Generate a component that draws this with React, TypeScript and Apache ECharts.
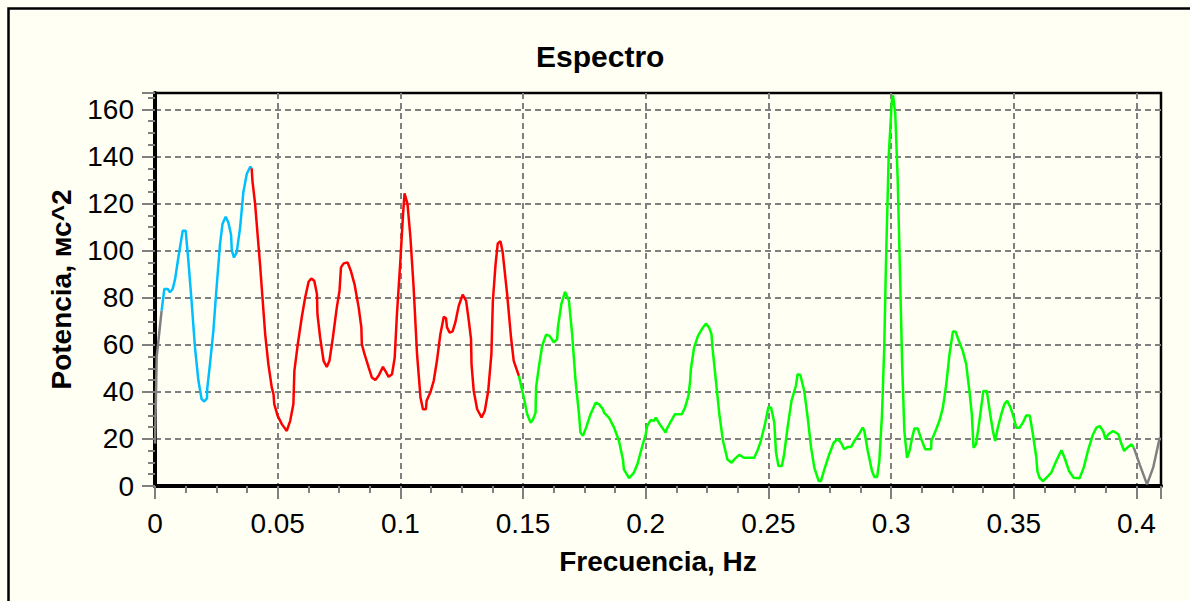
import React, { useEffect, useRef } from "react";
import * as echarts from "echarts";

// Spectrum: [frequency Hz, power ms^2]
const lowEdge: [number, number][] = [
  [0, 18], [0.0007, 55], [0.0027, 74.5],
];

const vlfBand: [number, number][] = [
  [0.0027, 74.5], [0.0038, 83.7], [0.0052, 83.7], [0.0061, 82.3], [0.0072, 83.7],
  [0.0082, 88], [0.0095, 97], [0.0113, 108.5], [0.0125, 108.5], [0.0136, 95.7],
  [0.0149, 78.7], [0.0163, 58.8], [0.0177, 44.7], [0.019, 36.9], [0.0201, 35.9],
  [0.0212, 37.3], [0.0213, 41.5], [0.0224, 51.8], [0.0238, 66], [0.0249, 81.7],
  [0.0265, 102.8], [0.0275, 111.3], [0.0288, 114.4], [0.0299, 112], [0.031, 106.8],
  [0.0313, 100], [0.0322, 97.1], [0.0333, 99.3], [0.0347, 109.9], [0.036, 124.8],
  [0.0374, 132.6], [0.0388, 135.7], [0.0394, 135],
];

const lfBand: [number, number][] = [
  [0.0394, 135], [0.0397, 129.8], [0.0408, 119.9], [0.0419, 105.7], [0.0429, 92.9],
  [0.0438, 80.1], [0.0449, 64.5], [0.0462, 51.8], [0.0476, 41.8], [0.0483, 39],
  [0.0486, 34.8], [0.05, 29.8], [0.0517, 26.3], [0.0537, 23.4], [0.0551, 27.7],
  [0.0564, 34.8], [0.0568, 48.9], [0.0582, 60.3], [0.0598, 71.6], [0.0612, 80.1],
  [0.0626, 86.8], [0.0637, 88.2], [0.0649, 87.2], [0.066, 81.6], [0.0662, 73],
  [0.0673, 63.1], [0.0687, 53.2], [0.07, 50.6], [0.0711, 53.2], [0.0725, 63.1],
  [0.0741, 75.9], [0.0752, 83], [0.0758, 92.9], [0.0769, 94.6], [0.0785, 95],
  [0.0798, 91.5], [0.0813, 85.8], [0.083, 75.9], [0.0841, 67.4], [0.0843, 60.3],
  [0.0854, 56], [0.0871, 50.3], [0.0884, 46.1], [0.0898, 45], [0.0911, 46.8],
  [0.0929, 50.6], [0.0941, 48.5], [0.0952, 46.4], [0.0966, 47.5], [0.0977, 54.6],
  [0.0986, 73], [0.1, 95.7], [0.1011, 115.6], [0.1017, 124.4], [0.1029, 119.9],
  [0.1041, 105.7], [0.1054, 84.4], [0.1068, 56], [0.1082, 37.6], [0.1092, 32.6],
  [0.1104, 32.6], [0.1107, 36.2], [0.1122, 39.7], [0.1136, 44.7], [0.1149, 53.2],
  [0.1163, 64.5], [0.1177, 71.9], [0.1186, 71.3], [0.119, 67.4], [0.1201, 65.2],
  [0.1213, 65.7], [0.1224, 69.5], [0.1238, 76.6], [0.1254, 81.3], [0.1268, 78.7],
  [0.1279, 70.2], [0.1288, 62.4], [0.129, 51.8], [0.1299, 40.4], [0.1313, 32.6],
  [0.1331, 29.1], [0.1344, 31.9], [0.1358, 40.4], [0.1371, 56], [0.1377, 78.7],
  [0.1388, 94.3], [0.1397, 103.1], [0.1408, 104], [0.1417, 99.3], [0.1435, 81.6],
  [0.1451, 63.1], [0.1462, 53.2], [0.1483, 46.8],
];

const hfBand: [number, number][] = [
  [0.1483, 46.8], [0.1503, 37.6], [0.1517, 30.5], [0.1531, 26.9], [0.1541, 28.4],
  [0.1551, 31.2], [0.1553, 41.8], [0.1564, 50.3], [0.1578, 59.6], [0.1594, 64.3],
  [0.1608, 63.8], [0.1626, 61], [0.1639, 62.4], [0.1642, 67.4], [0.1656, 77.3],
  [0.1671, 82.5], [0.1687, 78.7], [0.17, 64.5], [0.1714, 44.7], [0.1728, 30.5],
  [0.1734, 22.7], [0.1744, 21.3], [0.1757, 24.8], [0.1775, 30.5], [0.1796, 35.4],
  [0.1809, 34.8], [0.1826, 32.6], [0.183, 31.2], [0.185, 29.1], [0.1871, 24.8],
  [0.1891, 19.1], [0.1907, 11.3], [0.1911, 7.1], [0.1932, 3.3], [0.1952, 5.7],
  [0.1966, 9.2], [0.1986, 17], [0.2, 22], [0.2006, 25.5], [0.202, 28],
  [0.2034, 27.7], [0.2041, 29.1], [0.2057, 26.3], [0.2081, 22.7], [0.2085, 24.1],
  [0.2102, 27.4], [0.2119, 30.5], [0.2147, 30.5], [0.216, 33.3], [0.2174, 38.3],
  [0.2181, 44.7], [0.2184, 49.6], [0.2197, 58.8], [0.2213, 63.8], [0.2229, 66.7],
  [0.2245, 69], [0.2258, 67.4], [0.2268, 64.5], [0.2272, 58.8], [0.2286, 44.7],
  [0.23, 30.5], [0.2315, 19.1], [0.2333, 11.3], [0.235, 9.9], [0.2361, 11.3],
  [0.2381, 13.2], [0.2401, 12], [0.2442, 12], [0.2456, 15.2], [0.2469, 19.1],
  [0.2486, 26.3], [0.25, 33.6], [0.2511, 33.3], [0.2524, 26.9], [0.2531, 14.2],
  [0.2541, 8.5], [0.2555, 8.5], [0.2564, 13.5], [0.2578, 24.8], [0.2594, 36.2],
  [0.2612, 42.6], [0.2619, 47.5], [0.263, 47.2], [0.2646, 40.4], [0.266, 29.1],
  [0.2674, 16.3], [0.2687, 7.8], [0.2705, 2.1], [0.2714, 2.1], [0.2728, 7.1],
  [0.2748, 13.5], [0.2766, 18.4], [0.2782, 19.9], [0.2796, 18.4], [0.2809, 15.6],
  [0.2823, 16.6], [0.2837, 16.6], [0.285, 19.1], [0.2871, 22.3], [0.2884, 24.8],
  [0.2891, 23.4], [0.2905, 14.9], [0.2922, 6.4], [0.2932, 3.8], [0.2943, 3.8],
  [0.2952, 10.6], [0.2963, 30.5], [0.2972, 58.8], [0.2979, 94.3], [0.299, 139.7],
  [0.3003, 163.8], [0.3008, 166], [0.3017, 158.2], [0.3027, 129.8], [0.3037, 87.2],
  [0.3045, 51.8], [0.3054, 23.4], [0.3065, 12], [0.3075, 14.9], [0.3086, 20.6],
  [0.3095, 24.4], [0.3109, 24.4], [0.3123, 19.9], [0.3139, 15.6], [0.3163, 15.6],
  [0.3164, 19.1], [0.3181, 23.4], [0.3197, 27.7], [0.3211, 33.3], [0.3225, 43.3],
  [0.3238, 56], [0.3252, 65.7], [0.3262, 65.7], [0.3276, 61.7], [0.3292, 57.4],
  [0.3306, 51.8], [0.3319, 40.4], [0.3329, 30.5], [0.3336, 16.3], [0.3346, 17.7],
  [0.336, 27.7], [0.3376, 40.4], [0.339, 40.4], [0.3404, 30.5], [0.3415, 23.4],
  [0.3424, 19.1], [0.3435, 24.8], [0.3449, 30.5], [0.3462, 34.8], [0.3473, 36.2],
  [0.3487, 33.3], [0.35, 29.1], [0.351, 24.8], [0.3524, 24.8], [0.3537, 26.9],
  [0.3551, 30], [0.3565, 30], [0.3578, 22], [0.3592, 12], [0.3596, 6.4],
  [0.3605, 3.5], [0.3619, 2.1], [0.3633, 3.5], [0.3653, 5.7], [0.3673, 10.6],
  [0.3694, 15.2], [0.3707, 12], [0.3725, 6.4], [0.3744, 3.5], [0.3768, 3.3],
  [0.3785, 7.8], [0.3802, 14.9], [0.3823, 22], [0.3837, 24.8], [0.385, 25.5],
  [0.3864, 23.4], [0.3874, 19.9], [0.3885, 22], [0.3905, 23.4], [0.3926, 22],
  [0.3937, 18.4], [0.395, 14.9], [0.3966, 16.6], [0.398, 17.7], [0.3989, 16.3],
];

const highEdge: [number, number][] = [
  [0.3989, 16.3], [0.4013, 9.2], [0.4043, 0.7], [0.4068, 7.8], [0.4095, 20.6],
];

const titleText = "Espectro";
const xName = "Frecuencia, Hz";
const yName = "Potencia, мс^2";

const FONT = "'Liberation Sans', Arial, sans-serif";

function lineSeries(name: string, data: [number, number][], color: string) {
  return {
    name,
    type: "line",
    data,
    showSymbol: false,
    symbol: "none",
    smooth: false,
    clip: true,
    lineStyle: { color, width: 2.5 },
    itemStyle: { color },
  };
}

export default function App() {
  const ref = useRef<HTMLDivElement>(null);

  useEffect(() => {
    if (!ref.current) return;
    const chart = echarts.init(ref.current, undefined, { renderer: "svg" });
    const gray = "#808080";
    chart.setOption({
      animation: false,
      backgroundColor: "#FFFFF4",
      title: {
        text: titleText,
        left: 536,
        top: 41,
        padding: 0,
        textStyle: { fontFamily: FONT, fontSize: 30, fontWeight: "bold", color: "#000" },
      },
      graphic: [
        {
          type: "rect",
          left: 6,
          top: 6,
          shape: { width: 1300, height: 700 },
          style: { fill: "none", stroke: "#000", lineWidth: 2.5 },
          silent: true,
          z: -1,
        },
      ],
      grid: {
        left: 155,
        right: 29,
        top: 93,
        bottom: 115,
        show: true,
        borderColor: "#000",
        borderWidth: 2.5,
        backgroundColor: "transparent",
      },
      xAxis: {
        type: "value",
        min: 0,
        max: 0.41,
        interval: 0.05,
        name: xName,
        nameLocation: "middle",
        nameGap: 61,
        nameTextStyle: { fontFamily: FONT, fontSize: 28, fontWeight: "bold", color: "#000" },
        axisLine: { show: true, lineStyle: { color: "#000", width: 4 } },
        axisTick: { show: true, length: 13, lineStyle: { color: gray, width: 2 } },
        minorTick: { show: true, splitNumber: 4, length: 7, lineStyle: { color: gray, width: 2 } },
        axisLabel: {
          fontFamily: FONT,
          fontSize: 28,
          color: "#000",
          margin: 23,
          showMaxLabel: false,
          formatter: (v: number) => (v > 0.405 ? "" : String(+v.toFixed(2))),
        },
        splitLine: {
          show: true,
          showMinLine: false,
          showMaxLine: false,
          lineStyle: { color: gray, width: 2, type: [6, 4] },
        },
      },
      yAxis: {
        type: "value",
        min: 0,
        max: 167,
        interval: 20,
        name: yName,
        nameLocation: "middle",
        nameGap: 80,
        nameRotate: 90,
        nameTextStyle: { fontFamily: FONT, fontSize: 28, fontWeight: "bold", color: "#000" },
        axisLine: { show: true, lineStyle: { color: "#000", width: 4 } },
        axisTick: { show: true, length: 13, lineStyle: { color: gray, width: 2 } },
        minorTick: { show: true, splitNumber: 4, length: 7, lineStyle: { color: gray, width: 2 } },
        axisLabel: {
          fontFamily: FONT,
          fontSize: 28,
          color: "#000",
          margin: 21,
          showMaxLabel: false,
          formatter: (v: number) => (v > 165 ? "" : String(v)),
        },
        splitLine: {
          show: true,
          showMinLine: false,
          showMaxLine: false,
          lineStyle: { color: gray, width: 2, type: [6, 4] },
        },
      },
      series: [
        lineSeries("low", lowEdge, "#808080"),
        lineSeries("VLF", vlfBand, "#00BFFF"),
        lineSeries("LF", lfBand, "#FF0000"),
        lineSeries("HF", hfBand, "#00FF00"),
        lineSeries("high", highEdge, "#808080"),
      ],
    });
    return () => chart.dispose();
  }, []);

  return (
    <div
      ref={ref}
      style={{ position: "fixed", left: 0, top: 0, width: 1190, height: 601 }}
    />
  );
}
